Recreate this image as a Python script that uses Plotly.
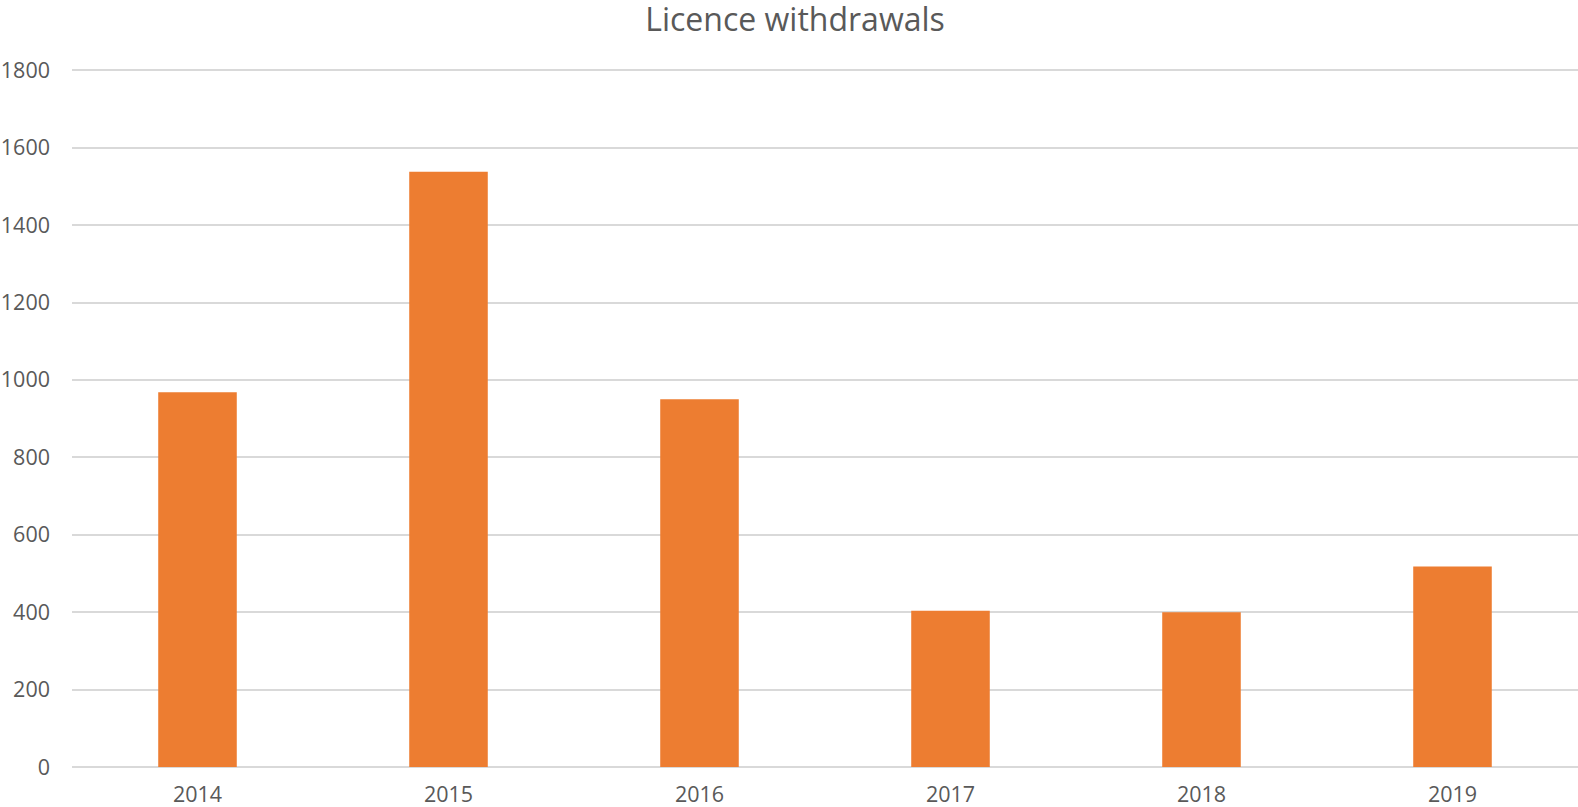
import plotly.graph_objects as go

years = ["2014", "2015", "2016", "2017", "2018", "2019"]
withdrawals = [968, 1538, 950, 404, 400, 518]
y_ticks = [0, 200, 400, 600, 800, 1000, 1200, 1400, 1600, 1800]

fig = go.Figure(go.Bar(
    x=years, y=withdrawals,
    marker=dict(color="#ED7D31", line=dict(width=0)),
))

fig.update_layout(
    width=1578, height=807,
    paper_bgcolor="white", plot_bgcolor="white",
    margin=dict(l=72, r=0, t=68, b=40, autoexpand=False),
    bargap=0.687,
    showlegend=False,
    title=dict(text="Licence withdrawals", x=795 / 1578, xanchor="center",
               y=1 - 20 / 807, yanchor="middle", yref="container",
               font=dict(family="Open Sans", size=32, color="#595959")),
    font=dict(family="Open Sans", color="#595959", size=21.5),
)
fig.update_yaxes(range=[0, 1806], tickvals=y_ticks, showgrid=True,
                 gridcolor="#D9D9D9", gridwidth=1.5, zeroline=True,
                 zerolinecolor="#D9D9D9", zerolinewidth=1.5,
                 showline=False, ticks="", ticklabelstandoff=21,
                 automargin=False,
                 tickfont=dict(size=21.5, color="#595959"))
fig.update_xaxes(showgrid=False, showline=False, ticks="",
                 ticklabelstandoff=12, automargin=False,
                 tickfont=dict(size=21.5, color="#595959"))

fig.write_html("out.html",
               config={"displayModeBar": False},
               post_script="document.body.style.margin='0';")
